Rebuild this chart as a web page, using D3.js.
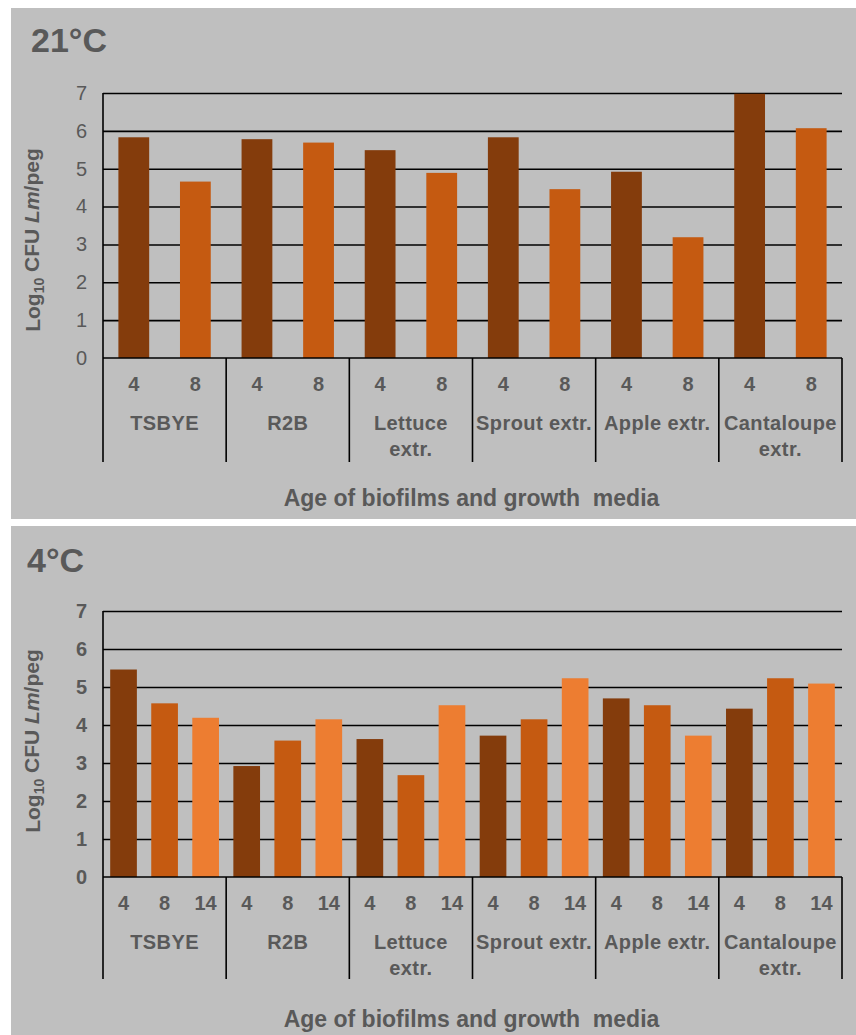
<!DOCTYPE html>
<html>
<head>
<meta charset="utf-8">
<script src="https://cdn.jsdelivr.net/npm/d3@7"></script>
<style>
  html, body { margin: 0; padding: 0; background: #ffffff; }
  svg { display: block; font-family: "Liberation Sans", Arial, sans-serif; }
</style>
</head>
<body>
<svg id="chart" width="856" height="1035"></svg>
<script>
// Growth media (x-axis groups) and their label lines
const media = ["TSBYE", "R2B", "Lettuce extr.", "Sprout extr.", "Apple extr.", "Cantaloupe extr."];
const mediaLines = [["TSBYE"], ["R2B"], ["Lettuce", "extr."], ["Sprout extr."], ["Apple extr."], ["Cantaloupe", "extr."]];

// Biofilm ages (days)
const ages21 = ["4", "8"];
const ages4 = ["4", "8", "14"];

// Log10 CFU L. monocytogenes per peg, 21 °C
const cfu21Day4 = [5.83, 5.78, 5.49, 5.83, 4.92, 6.98];
const cfu21Day8 = [4.66, 5.69, 4.89, 4.46, 3.19, 6.07];

// Log10 CFU L. monocytogenes per peg, 4 °C
const cfu4Day4 = [5.46, 2.92, 3.63, 3.72, 4.70, 4.43];
const cfu4Day8 = [4.57, 3.59, 2.68, 4.15, 4.52, 5.23];
const cfu4Day14 = [4.19, 4.15, 4.52, 5.23, 3.72, 5.09];

const yTicks = [0, 1, 2, 3, 4, 5, 6, 7];
const ageColors = ["#843c0c", "#c55a11", "#ed7d31"];

const svg = d3.select("#chart");
const textColor = "#595959";

function drawPanel(opt) {
  const g = svg.append("g");
  const left = 103, right = 842;
  const top = opt.plotTop, bottom = opt.plotBottom;

  // panel background
  g.append("rect")
    .attr("x", 11).attr("y", opt.panelTop)
    .attr("width", 856 - 11).attr("height", opt.panelBottom - opt.panelTop)
    .attr("fill", "#bfbfbf");

  // title
  g.append("text")
    .attr("x", opt.titleX).attr("y", opt.titleY)
    .attr("font-size", 34).attr("font-weight", "bold")
    .attr("fill", textColor)
    .text(opt.title);

  const x0 = d3.scaleBand().domain(media).range([left, right]).padding(0);
  const x1 = d3.scaleBand().domain(opt.ages).range([0, x0.bandwidth()])
    .paddingInner(opt.barPad).paddingOuter(opt.barPad / 2);
  const y = d3.scaleLinear().domain([0, 7]).range([bottom, top]);

  // horizontal gridlines
  const grid = g.append("g")
    .attr("transform", `translate(${left},0)`)
    .call(d3.axisLeft(y).tickValues(yTicks.filter(v => v > 0)).tickSize(-(right - left)).tickFormat(""));
  grid.select(".domain").remove();
  grid.selectAll(".tick line").attr("stroke", "#000").attr("stroke-width", 1.6);

  // y tick labels
  const yAxis = g.append("g")
    .attr("transform", `translate(${left},0)`)
    .call(d3.axisLeft(y).tickValues(yTicks).tickFormat(d3.format("d")).tickSize(0).tickPadding(16));
  yAxis.select(".domain").remove();
  yAxis.selectAll("text")
    .attr("font-size", 20)
    .attr("font-family", "Liberation Sans, Arial, sans-serif")
    .attr("font-weight", opt.tickBold ? "bold" : "normal")
    .attr("fill", textColor);

  // bars
  const rows = media.map((m, i) => opt.series.map((s, j) => ({ m, age: opt.ages[j], v: s[i], j })));
  g.append("g").selectAll("g")
    .data(rows).join("g")
    .attr("transform", d => `translate(${x0(d[0].m)},0)`)
    .selectAll("rect").data(d => d).join("rect")
    .attr("x", d => x1(d.age))
    .attr("width", x1.bandwidth())
    .attr("y", d => y(d.v))
    .attr("height", d => y(0) - y(d.v))
    .attr("fill", d => ageColors[d.j]);

  // axis frame: left line, baseline, group separators
  const sepBottom = bottom + opt.sepDepth;
  g.append("line")
    .attr("x1", left).attr("x2", left).attr("y1", top).attr("y2", sepBottom)
    .attr("stroke", "#000").attr("stroke-width", 1.6);
  g.append("line")
    .attr("x1", left).attr("x2", right).attr("y1", bottom).attr("y2", bottom)
    .attr("stroke", "#000").attr("stroke-width", 1.6);
  const seps = media.map(m => x0(m) + x0.bandwidth());
  g.selectAll(".sep").data(seps).join("line")
    .attr("x1", d => d).attr("x2", d => d)
    .attr("y1", bottom).attr("y2", sepBottom)
    .attr("stroke", "#000").attr("stroke-width", 1.6);

  // age labels
  const ageLab = media.flatMap(m => opt.ages.map(a => ({ m, a })));
  g.selectAll(".age").data(ageLab).join("text")
    .attr("x", d => x0(d.m) + x1(d.a) + x1.bandwidth() / 2)
    .attr("y", bottom + 26)
    .attr("dy", "0.35em")
    .attr("text-anchor", "middle")
    .attr("font-size", 20).attr("font-weight", "bold")
    .attr("fill", textColor)
    .text(d => d.a);

  // media labels
  const medLab = g.selectAll(".med").data(media).join("text")
    .attr("text-anchor", "middle")
    .attr("font-size", 20).attr("font-weight", "bold")
    .attr("letter-spacing", 0.4)
    .attr("fill", textColor);
  medLab.selectAll("tspan")
    .data((d, i) => mediaLines[i].map((t, k) => ({ t, k, x: x0(d) + x0.bandwidth() / 2 })))
    .join("tspan")
    .attr("x", d => d.x)
    .attr("y", d => bottom + 65 + d.k * 26)
    .attr("dy", "0.35em")
    .text(d => d.t);

  // x-axis title
  g.append("text")
    .attr("x", (left + right) / 2 - 1)
    .attr("y", bottom + opt.xTitleOff)
    .attr("dy", "0.35em")
    .attr("text-anchor", "middle")
    .attr("font-size", 23).attr("font-weight", "bold")
    .attr("fill", textColor)
    .attr("xml:space", "preserve")
    .text("Age of biofilms and growth  media");

  // y-axis title
  const yt = g.append("text")
    .attr("transform", `translate(33,${opt.yTitleY}) rotate(-90)`)
    .attr("text-anchor", "middle")
    .attr("dy", "0.35em")
    .attr("font-size", 21).attr("font-weight", "bold")
    .attr("fill", textColor);
  yt.append("tspan").text("Log");
  yt.append("tspan").attr("font-size", 14).attr("dy", "0.25em").text("10");
  yt.append("tspan").attr("dy", "-0.25em").text(" CFU ");
  yt.append("tspan").attr("font-style", "italic").text("Lm");
  yt.append("tspan").text("/peg");
}

drawPanel({
  title: "21°C", titleX: 31, titleY: 52,
  panelTop: 8, panelBottom: 519,
  plotTop: 93, plotBottom: 358,
  ages: ages21, series: [cfu21Day4, cfu21Day8], barPad: 0.5,
  tickBold: false, sepDepth: 104, xTitleOff: 140, yTitleY: 240
});

drawPanel({
  title: "4°C", titleX: 27, titleY: 572,
  panelTop: 526, panelBottom: 1035,
  plotTop: 611, plotBottom: 877,
  ages: ages4, series: [cfu4Day4, cfu4Day8, cfu4Day14], barPad: 0.35,
  tickBold: true, sepDepth: 102, xTitleOff: 142, yTitleY: 741
});
</script>
</body>
</html>
